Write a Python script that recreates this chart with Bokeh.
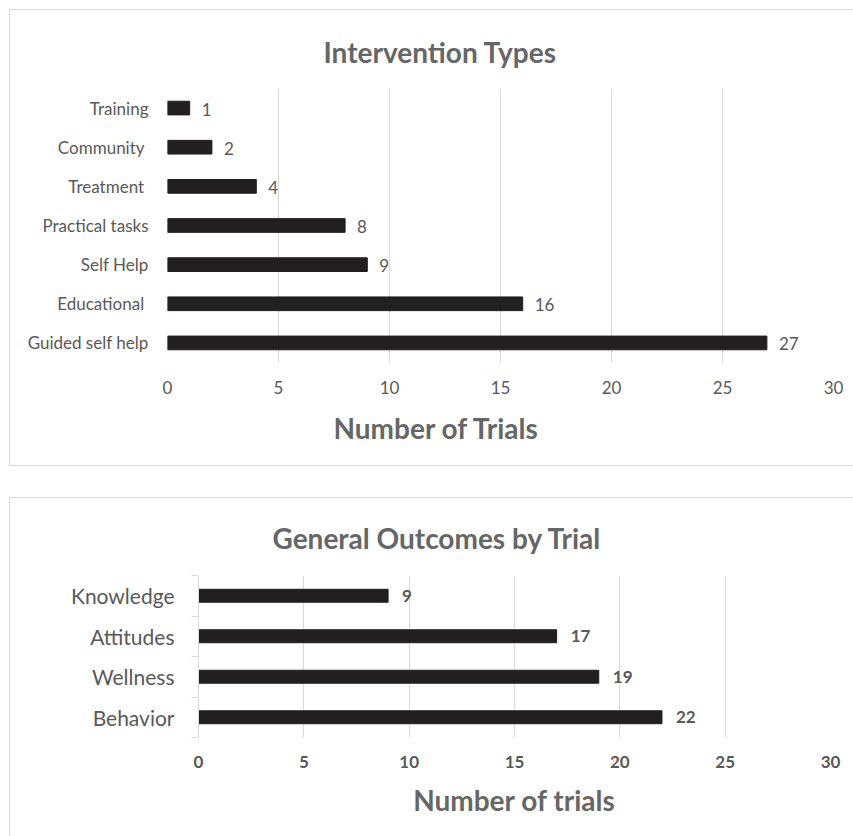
from bokeh.plotting import figure
from bokeh.models import Range1d, FactorRange, Title, FixedTicker, ColumnDataSource
from bokeh.core.properties import value
from bokeh.embed import file_html
from bokeh.resources import INLINE

# ---- data ----
intervention_types = ["Training", "Community\u00a0", "Treatment\u00a0", "Practical tasks",
                      "Self Help", "Educational\u00a0", "Guided self help"]
intervention_counts = [1, 2, 4, 8, 9, 16, 27]

outcome_types = ["Knowledge", "Attitudes", "Wellness", "Behavior"]
outcome_counts = [9, 17, 19, 22]

x_ticks = [0, 5, 10, 15, 20, 25, 30]

FONT = "Lato"
GREY = "#595959"
TGREY = "#666666"
GRID = "#d9d9d9"
BAR = "#231f20"


def style_title(t, align="left", size="28px"):
    t.text_font = FONT
    t.text_font_style = "bold"
    t.text_font_size = size
    t.text_color = TGREY
    t.align = align


# ---------------- top chart ----------------
src1 = ColumnDataSource(dict(cat=intervention_types, val=intervention_counts,
                             lab=[str(v) for v in intervention_counts]))
p1 = figure(width=843, height=455, x_range=Range1d(0, 30),
            y_range=FactorRange(factors=intervention_types[::-1]),
            output_backend="svg", toolbar_location=None,
            min_border_left=157, min_border_right=20, min_border_top=78, min_border_bottom=103,
            margin=(10, 0, 0, 10), styles={"outline": "1px solid #d9d9d9"})
p1.hbar(y="cat", left=0, right="val", height=0.35, color=BAR, source=src1)
p1.text(x="val", y="cat", text="lab", x_offset=12, y_offset=1, text_baseline="middle",
        text_align="left", text_font=value(FONT), text_font_size="17px", text_color=GREY,
        source=src1)

p1.outline_line_color = None
p1.ygrid.grid_line_color = None
p1.xgrid.grid_line_color = GRID
p1.xaxis.ticker = FixedTicker(ticks=x_ticks)
p1.xgrid.ticker = FixedTicker(ticks=x_ticks)
for ax in (p1.xaxis[0], p1.yaxis[0]):
    ax.axis_line_color = None
    ax.major_tick_line_color = None
    ax.minor_tick_line_color = None
    ax.major_label_text_font = FONT
    ax.major_label_text_color = GREY
    ax.major_label_text_font_size = "17px"
p1.xaxis.major_label_standoff = 12
p1.yaxis.major_label_standoff = 13

p1.title.text = "Intervention Types"
style_title(p1.title)
p1.title.offset = 156
p1.title.standoff = 39

t1b = Title(text="Number of Trials", offset=166, standoff=25)
style_title(t1b)
p1.add_layout(t1b, "below")

# ---------------- bottom chart ----------------
n_out = len(outcome_types)
ypos = [n_out - 1 - i + 0.5 for i in range(n_out)]          # first category on top
src2 = ColumnDataSource(dict(y=ypos, val=outcome_counts,
                             lab=[str(v) for v in outcome_counts]))
p2 = figure(width=843, height=338, x_range=Range1d(0, 30), y_range=Range1d(0, n_out),
            output_backend="svg", toolbar_location=None,
            min_border_left=188, min_border_right=23, min_border_top=77, min_border_bottom=99,
            margin=(33, 0, 0, 10), styles={"outline": "1px solid #d9d9d9"})
p2.hbar(y="y", left=0, right="val", height=0.32, color=BAR, source=src2)
p2.text(x="val", y="y", text="lab", x_offset=14, text_baseline="middle", text_align="left",
        text_font=value(FONT), text_font_style="bold", text_font_size="17px",
        text_color=GREY, source=src2)

p2.outline_line_color = None
p2.ygrid.grid_line_color = None
p2.xgrid.grid_line_color = GRID
p2.xaxis.ticker = FixedTicker(ticks=x_ticks)
p2.xgrid.ticker = FixedTicker(ticks=x_ticks)
xa = p2.xaxis[0]
xa.axis_line_color = None
xa.major_tick_line_color = None
xa.minor_tick_line_color = None
xa.major_label_text_font = FONT
xa.major_label_text_font_style = "bold"
xa.major_label_text_color = GREY
xa.major_label_text_font_size = "17px"
xa.major_label_standoff = 12

ya = p2.yaxis[0]
ya.ticker = FixedTicker(ticks=ypos, minor_ticks=list(range(n_out + 1)))
ya.major_label_overrides = {y: name for y, name in zip(ypos, outcome_types)}
ya.axis_line_color = GRID
ya.major_tick_line_color = None
ya.minor_tick_line_color = GRID
ya.minor_tick_out = 7
ya.minor_tick_in = 0
ya.major_tick_out = 0
ya.major_tick_in = 0
ya.major_label_standoff = 17
ya.major_label_text_font = FONT
ya.major_label_text_color = GREY
ya.major_label_text_font_size = "21px"

p2.title.text = "General Outcomes by Trial"
style_title(p2.title)
p2.title.offset = 74
p2.title.standoff = 41

t2b = Title(text="Number of trials", standoff=20)
style_title(t2b, align="center")
p2.add_layout(t2b, "below")

open("out.html", "w").write(file_html([p1, p2], INLINE))
